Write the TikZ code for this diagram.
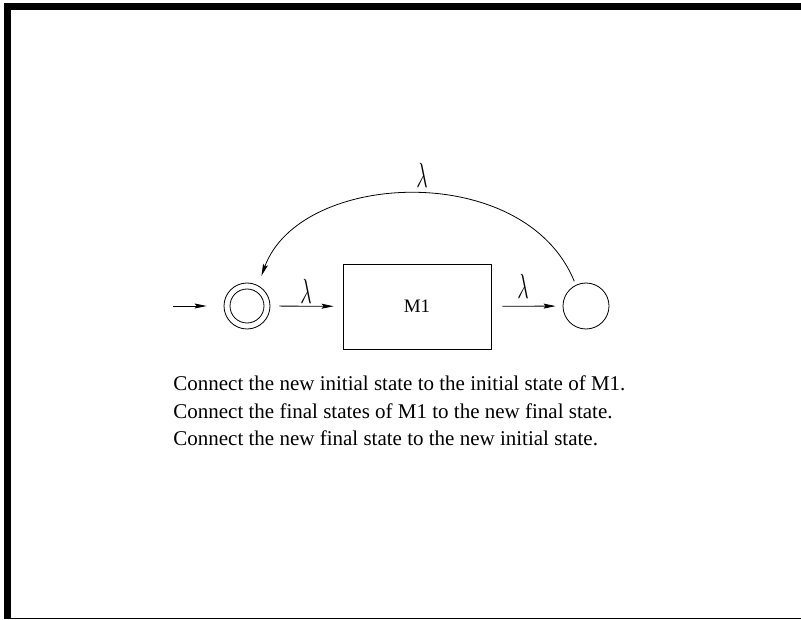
\documentclass[tikz,border=0pt]{standalone}
\usepackage{fontspec}
\usepackage{graphicx}
\setmainfont{Liberation Serif}
\usetikzlibrary{arrows.meta}

\newcommand{\lam}{\scalebox{0.8}[1.4]{$\lambda$}}

\begin{document}
\begin{tikzpicture}[x=1pt, y=-1pt, line width=0.8pt,
    every node/.style={font=\fontsize{21}{25}\selectfont},
    state/.style={draw, circle, minimum size=46pt, inner sep=0pt},
    arr/.style={-{Stealth[length=12pt,width=5pt,inset=2pt]}},
    lbl/.style={font=\fontsize{24}{28}\selectfont, inner sep=0pt}]
  \useasboundingbox (0,0) rectangle (801,620);

  % frame
  \fill (4,3) rectangle (11,619);
  \fill (4,3) rectangle (801,10);
  \draw[line width=1pt] (4,618.5) -- (801,618.5);

  % states and machine
  \coordinate (start) at (173,306);
  \node[state] (init) at (247,306) {};
  \draw (init.center) circle (17pt);
  \node[draw, minimum width=148pt, minimum height=85pt, font=\fontsize{19}{23}\selectfont] (m1) at (417,306.5) {M1};
  \node[state] (fin) at (586,306) {};

  % connectors
  \draw[arr, shorten >=17pt] (start) -- (init);
  \draw[arr, shorten <=9pt, shorten >=9pt] (init) -- (m1);
  \draw[arr, shorten <=11pt, shorten >=7pt] (m1) -- (fin);
  \draw[arr, shorten <=4pt, shorten >=10pt] (fin.116) .. controls (525,160) and (300,170) .. (init.62);

  \node[lbl] at (306,291) {\lam};
  \node[lbl] at (523,286) {\lam};
  \node[lbl] at (422,175) {\lam};

  % notes
  \node[anchor=base west, inner sep=0pt] (n1) at (173,391) {Connect the new initial state to the initial state of M1.};
  \node[anchor=base west, inner sep=0pt] (n2) at (173,418) {Connect the final states of M1 to the new final state.};
  \node[anchor=base west, inner sep=0pt] (n3) at (173,445) {Connect the new final state to the new initial state.};
\end{tikzpicture}
\end{document}
